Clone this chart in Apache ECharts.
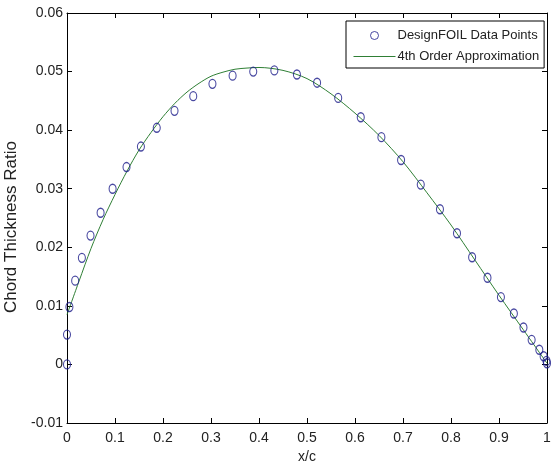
<!DOCTYPE html>
<html>
<head>
<meta charset="utf-8">
<script src="https://cdn.jsdelivr.net/npm/echarts@6/dist/echarts.min.js"></script>
<style>
  html, body { margin: 0; padding: 0; background: #fff; }
  #chart { width: 553px; height: 466px; }
</style>
</head>
<body>
<div id="chart"></div>
<script>
// DesignFOIL points (x/c, thickness ratio)
const pointX = [0, 0, 0.005, 0.017, 0.031, 0.049, 0.070, 0.095, 0.124, 0.154, 0.187, 0.224,
  0.263, 0.303, 0.345, 0.388, 0.432, 0.479, 0.521, 0.565, 0.612, 0.655, 0.696, 0.737,
  0.777, 0.8125, 0.844, 0.876, 0.904, 0.931, 0.951, 0.968, 0.984, 0.993, 0.999, 1.0]
const pointY = [0, 0.0051, 0.0098, 0.0143, 0.0182, 0.0220, 0.0259, 0.0300, 0.0337, 0.0372,
  0.0404, 0.0433, 0.0458, 0.0479, 0.0493, 0.0500, 0.0502, 0.0495, 0.0481, 0.0455, 0.0422,
  0.0388, 0.0349, 0.0307, 0.0265, 0.0224, 0.0183, 0.0148, 0.0115, 0.0087, 0.0063, 0.0042,
  0.0025, 0.0014, 0.0006, 0.0002]

// 4th order approximation, sampled from the drawn curve
const fitX = [0, 0.025, 0.05, 0.075, 0.1, 0.125, 0.15, 0.175, 0.2, 0.225, 0.25, 0.275, 0.3,
  0.325, 0.35, 0.375, 0.4, 0.45, 0.5, 0.55, 0.6, 0.65, 0.7, 0.75, 0.8, 0.85, 0.9, 0.95, 1.0]
const fitY = [0.0085, 0.0142, 0.0198, 0.0247, 0.0290, 0.0330, 0.0366, 0.0396, 0.0423, 0.0446,
  0.0465, 0.0480, 0.0492, 0.0499, 0.0504, 0.0506, 0.0507, 0.0502, 0.0488, 0.0462, 0.0429,
  0.0391, 0.0346, 0.0293, 0.0238, 0.0178, 0.0118, 0.0060, 0.0002]

const xTicks = ['0', '0.1', '0.2', '0.3', '0.4', '0.5', '0.6', '0.7', '0.8', '0.9', '1']
const yTicks = ['-0.01', '0', '0.01', '0.02', '0.03', '0.04', '0.05', '0.06']

const font = "'Liberation Sans', Arial, sans-serif"
const ink = '#222'

const chart = echarts.init(document.getElementById('chart'))

const frame = {
  axisLine: { show: true, onZero: false, lineStyle: { color: '#000', width: 1 } },
  axisTick: { show: true, inside: true, length: 5, lineStyle: { color: '#000' } },
  splitLine: { show: false }
}

chart.setOption({
  backgroundColor: '#fff',
  animation: false,
  textStyle: { fontFamily: font },
  grid: { left: 67, right: 6, top: 13, bottom: 43, containLabel: false, outerBoundsMode: 'none' },
  legend: {
    orient: 'vertical',
    left: 346,
    top: 21,
    padding: [8, 5, 5, 7],
    itemWidth: 42,
    itemHeight: 8,
    itemGap: 8,
    backgroundColor: '#fff',
    borderColor: '#000',
    borderWidth: 1,
    borderRadius: 0,
    lineStyle: { width: 1 },
    textStyle: { fontFamily: font, fontSize: 13, color: ink, padding: [0, 0, 0, -3] },
    data: [
      { name: 'DesignFOIL Data Points', icon: 'circle', itemStyle: { borderWidth: 1 } },
      { name: '4th Order Approximation', itemStyle: { color: 'rgba(0,0,0,0)', borderWidth: 0 } }
    ]
  },
  xAxis: [
    Object.assign({
      type: 'value', min: 0, max: 1, interval: 0.1,
      name: 'x/c', nameLocation: 'middle', nameGap: 22,
      nameTextStyle: { fontFamily: font, fontSize: 14, color: ink },
      axisLabel: {
        margin: 8, fontFamily: font, fontSize: 14, color: ink,
        formatter: (v) => xTicks[Math.round(v * 10)]
      }
    }, frame),
    Object.assign({
      type: 'value', min: 0, max: 1, interval: 0.1, position: 'top',
      axisLabel: { show: false }
    }, frame)
  ],
  yAxis: [
    Object.assign({
      type: 'value', min: -0.01, max: 0.06, interval: 0.01,
      name: 'Chord Thickness Ratio', nameLocation: 'middle', nameGap: 40,
      nameTextStyle: { fontFamily: font, fontSize: 17, color: ink, padding: [0, 18, 0, 0] },
      axisLabel: {
        margin: 4, fontFamily: font, fontSize: 14, color: ink,
        formatter: (v) => yTicks[Math.round(v * 100) + 1]
      }
    }, frame),
    Object.assign({
      type: 'value', min: -0.01, max: 0.06, interval: 0.01, position: 'right',
      axisLabel: { show: false }
    }, frame)
  ],
  series: [
    {
      name: 'DesignFOIL Data Points',
      type: 'scatter',
      symbol: 'circle',
      symbolSize: [7, 9],
      z: 3,
      itemStyle: { color: 'rgba(0,0,0,0)', borderColor: '#1c1c8a', borderWidth: 1.2 },
      data: pointX.map((x, i) => [x, pointY[i]])
    },
    {
      name: '4th Order Approximation',
      type: 'line',
      smooth: 0.3,
      symbol: 'none',
      z: 2,
      lineStyle: { color: '#2f7f35', width: 1 },
      itemStyle: { color: '#2f7f35' },
      data: fitX.map((x, i) => [x, fitY[i]])
    }
  ]
})
</script>
</body>
</html>
